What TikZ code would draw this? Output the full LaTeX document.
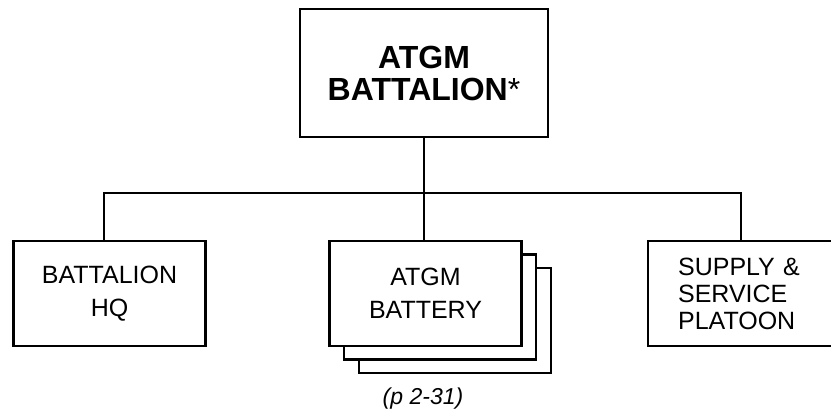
\documentclass[tikz,border=0pt]{standalone}
\usepackage{fontspec}
\setmainfont{Liberation Sans}
\begin{document}
\begin{tikzpicture}[x=0.5pt,y=-0.5pt,line width=1.1pt,
        boite/.style={draw, rectangle, fill=white, align=center, inner sep=0pt,
            minimum width=96pt, minimum height=52.5pt,
            font=\fontsize{12.5}{16.5}\selectfont}]
            \useasboundingbox (0,0) rectangle (831,414);
            \clip (0,0) rectangle (831,414);
            % Bataillon
            \node[boite, minimum width=124pt, minimum height=64pt,
                font=\fontsize{16}{16}\selectfont\bfseries] (bn) at (424,73) {ATGM\\BATTALION{\mdseries *}};
            % Unités
            \node[boite] (hq) at (109.5,293.5) {BATTALION\\HQ};
            \node[boite] (bat3) at (455,320.5) {};
            \node[boite] (bat2) at (440,307) {};
            \node[boite] (bat) at (425.5,293.5) {ATGM\\BATTERY};
            \node[boite, anchor=west, align=left, text width=80pt, inner xsep=15pt,
                font=\fontsize{12.5}{13.5}\selectfont] (sup) at (647,293.5) {SUPPLY \&\\SERVICE\\PLATOON};
            % Liaisons
            \coordinate (bus) at (424,193);
            \draw (bn.south) -- (bus);
            \draw ([xshift=-2.75pt]hq.north) |- ([xshift=47pt]sup.north west |- bus) -- ([xshift=47pt]sup.north west);
            \draw (bus) -- (bus |- bat.north);
            % Renvoi
            \node[font=\fontsize{11.5}{13}\selectfont\itshape] (renvoi) at (423,399) {(p 2-31)};
        \end{tikzpicture}
\end{document}
